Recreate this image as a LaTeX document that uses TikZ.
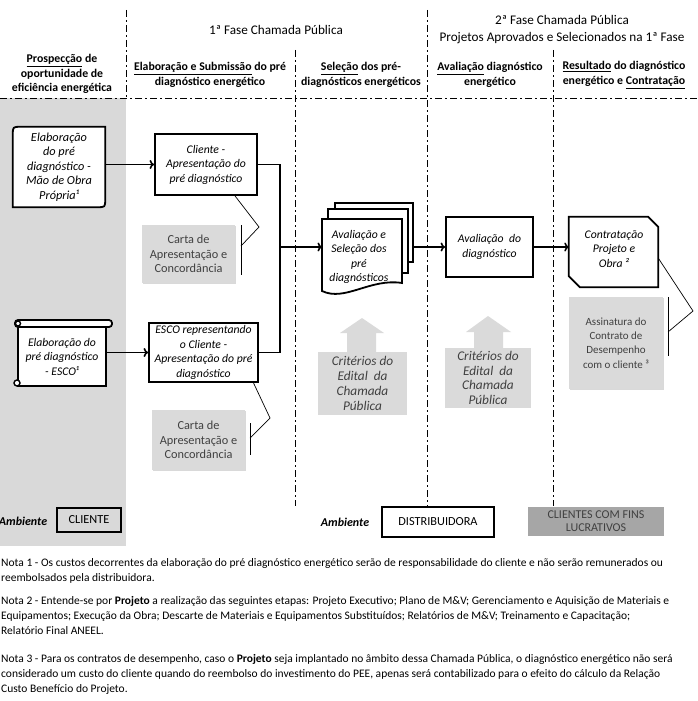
\documentclass[tikz,border=0pt]{standalone}
\usepackage{fontspec}
\setmainfont{Carlito}
\usetikzlibrary{shapes,arrows,arrows.meta,positioning,shadows}

\definecolor{laneGray}{RGB}{217,217,217}
\definecolor{boxGray}{RGB}{218,218,218}
\definecolor{envGray}{RGB}{166,166,166}
\definecolor{textGray}{RGB}{64,64,64}

\begin{document}
\begin{tikzpicture}[x=1pt, y=-1pt,
    divider/.style={line width=0.8pt, dash pattern=on 7pt off 3pt on 2pt off 3pt},
    stepbox/.style={draw, line width=1.8pt, fill=white, align=center, inner sep=1pt, font=\fontsize{11.7}{14.5}\selectfont\itshape},
    steptext/.style={align=center, inner sep=1pt, font=\fontsize{11.7}{14.5}\selectfont\itshape},
    docline/.style={line width=1.8pt, fill=white},
    cartabox/.style={fill=boxGray, align=center, inner sep=1pt, text=textGray, font=\fontsize{12.3}{14.5}\selectfont, drop shadow={shadow xshift=1.2pt, shadow yshift=-1.2pt, opacity=0.3}},
    critbox/.style={fill=boxGray, align=center, inner sep=1pt, text=textGray, font=\fontsize{13.3}{14.8}\selectfont\itshape},
    header/.style={align=center, font=\fontsize{11.8}{14.5}\selectfont\bfseries},
    phase/.style={align=center, font=\fontsize{13.2}{18}\selectfont},
    flow/.style={-{To[length=4.5pt,width=9pt]}, line width=1.6pt},
    link/.style={line width=1.6pt},
    callout/.style={line width=0.7pt},
    envbox/.style={draw, line width=1.6pt, font=\fontsize{12.3}{13}\selectfont},
    envlabel/.style={font=\fontsize{12}{13}\selectfont\bfseries\itshape},
    nota/.style={anchor=north west, align=left, inner sep=0pt, font=\fontsize{11.5}{15.2}\selectfont}
  ]
  \useasboundingbox (0,0) rectangle (698,701);

  % Client lane
  \fill[laneGray] (0,98) rectangle (126,546);

  % Phase dividers
  \draw[divider] (0,98) -- (698,98);
  \draw[divider] (126,10) -- (126,98);
  \draw[divider] (295,50) -- (295,506);
  \draw[divider] (427,10) -- (427,506);
  \draw[divider] (553,50) -- (553,506);

  % Phase titles
  \node[phase] (fase1) at (276,30) {1ª Fase Chamada Pública};
  \node[phase] (fase2) at (562,20) {2ª Fase Chamada Pública};
  \node[phase] (fase2b) at (562,38) {Projetos Aprovados e Selecionados na 1ª Fase};

  % Column headers
  \node[header] (hProsp) at (62,74) {\underline{Prospecção} de\\oportunidade de\\eficiência energética};
  \node[header] (hElab) at (210,75) {\underline{Elaboração e Submissão} do pré\\diagnóstico energético};
  \node[header] (hSel) at (361,75) {\underline{Seleção} dos pré-\\diagnósticos energéticos};
  \node[header] (hAval) at (490,75) {\underline{Avaliação} diagnóstico\\energético};
  \node[header] (hRes) at (624,75) {\underline{Resultado} do diagnóstico\\energético e \underline{Contratação}};

  % Own labour pre-diagnosis
  \node[steptext, minimum width=92pt, minimum height=80pt] (prop) at (59,167) {};
  \draw[docline] (prop.south west) -- ([yshift=-8pt]prop.north west) .. controls (prop.north west) .. ([xshift=8pt]prop.north west)
    -- (prop.north east) -- ([yshift=8pt]prop.south east) .. controls (prop.south east) .. ([xshift=-8pt]prop.south east) -- cycle;
  \node[steptext, font=\fontsize{12.3}{14.5}\selectfont\itshape] (propTxt) at (prop) {Elaboração\\do pré\\diagnóstico -\\Mão de Obra\\Própria¹};

  % ESCO pre-diagnosis (scroll)
  \node[minimum width=88pt, minimum height=59pt, inner sep=0pt] (scroll) at (62,356.5) {};
  \draw[docline] (scroll.north west) rectangle (scroll.south east);
  \draw[docline, rounded corners=3pt] (15,320) rectangle (112,327);
  \draw[line width=1.4pt, fill=white] (18,323.5) circle[radius=2.5];
  \draw[line width=1.4pt, fill=white] (17,383) circle[radius=3];
  \node[steptext] (escoTxt) at (scroll) {Elaboração do\\pré diagnóstico\\- ESCO¹};

  % Submission boxes
  \node[stepbox, minimum width=102pt, minimum height=61pt] (cli) at (206,164.5) {Cliente -\\Apresentação do\\pré diagnóstico};
  \node[stepbox, minimum width=109pt, minimum height=59pt] (esco) at (203.5,352.5) {ESCO representando\\o Cliente -\\Apresentação do pré\\diagnóstico};

  % Letters
  \node[cartabox, minimum width=93pt, minimum height=58pt] (carta1) at (188.5,254) {Carta de\\Apresentação e\\Concordância};
  \node[cartabox, minimum width=93pt, minimum height=60pt] (carta2) at (198.5,440) {Carta de\\Apresentação e\\Concordância};
  \draw[callout] (241,225) -- (241,275);
  \draw[callout] (241,246) -- (259,227) -- ([xshift=29pt]cli.south);
  \draw[callout] (250,423) -- (250,455);
  \draw[callout] (250,438) -- (270,418) -- ([xshift=50pt]esco.south);

  % Selection (stacked documents)
  \draw[docline] (335,203) rectangle (413,262);
  \draw[docline] (328,209) rectangle (408,273);
  \draw[docline] (322,219) -- (402,219) -- (402,283) .. controls (370,278) and (345,302) .. (322,291) -- cycle;
  \node[steptext] (sel) at (359,257) {Avaliação e\\Seleção dos\\pré\\diagnósticos};
  \coordinate (selIn) at (322,247);
  \coordinate (selOut) at (413,247);

  % Criteria (up arrows)
  \fill[boxGray] (362,318) -- (384,333) -- (376,333) -- (376,353) -- (347,353) -- (347,333) -- (340,333) -- cycle;
  \node[critbox, minimum width=89pt, minimum height=63pt] (crit1) at (362.5,383.5) {Critérios do\\Edital~ da\\Chamada\\Pública};
  \fill[boxGray] (488,316) -- (511,332) -- (503,332) -- (503,349) -- (474,349) -- (474,332) -- (466,332) -- cycle;
  \node[critbox, minimum width=86pt, minimum height=60pt] (crit2) at (488,378) {Critérios do\\Edital~ da\\Chamada\\Pública};

  % Evaluation
  \node[stepbox, minimum width=87pt, minimum height=60pt] (aval) at (489.5,247) {Avaliação~ do\\diagnóstico};

  % Contract (snipped box)
  \node[minimum width=89pt, minimum height=70pt, inner sep=0pt] (contr) at (613.5,252) {};
  \draw[docline] (contr.north west) -- ([xshift=-10pt]contr.north east) -- ([yshift=-10pt]contr.north east)
    -- (contr.south east) -- ([xshift=11pt]contr.south west) -- ([yshift=11pt]contr.south west) -- cycle;
  \node[steptext] (contrTxt) at (614,249) {Contratação\\Projeto e\\Obra ²};

  \node[cartabox, font=\fontsize{11}{14.2}\selectfont, minimum width=94pt, minimum height=92pt] (assin) at (616,343) {Assinatura do\\Contrato de\\Desempenho\\com o cliente ³};
  \draw[callout] (668,297) -- (668,356);
  \draw[callout] (668,332) -- (693,311) -- ([yshift=-6pt]contr.east);

  % Flow connectors
  \coordinate (junc) at (280,247);
  \draw[flow] (prop.east |- cli.west) -- (cli.west);
  \draw[flow] (scroll.east |- esco.west) -- (esco.west);
  \draw[link] (cli.east) -| (junc) |- (esco.east);
  \draw[flow] (junc) -- (selIn);
  \draw[flow] (selOut) -- (aval.west);
  \draw[flow] (aval.east) -- (aval.east -| contr.west);

  % Environments
  \node[envlabel] (amb1) at (23,521) {Ambiente};
  \node[envbox, minimum width=64pt, minimum height=24pt] (envCli) at (89,520) {CLIENTE};
  \node[envlabel] (amb2) at (345,522) {Ambiente};
  \node[envbox, minimum width=112pt, minimum height=30pt] (envDist) at (438,522) {DISTRIBUIDORA};
  \node[fill=envGray, text=textGray, align=center, minimum width=136pt, minimum height=29pt, inner sep=1pt, font=\fontsize{12}{13}\selectfont] (envLuc) at (596,521.5) {CLIENTES COM FINS\\LUCRATIVOS};

  % Notes
  \node[nota] (nota1) at (1,558) {Nota 1 - Os custos decorrentes da elaboração do pré diagnóstico energético serão de responsabilidade do cliente e não serão remunerados ou\\reembolsados pela distribuidora.};
  \node[nota] (nota2) at (1,596) {Nota 2 - Entende-se por \textbf{Projeto} a realização das seguintes etapas: Projeto Executivo; Plano de M\&V; Gerenciamento e Aquisição de Materiais e\\Equipamentos; Execução da Obra; Descarte de Materiais e Equipamentos Substituídos; Relatórios de M\&V; Treinamento e Capacitação;\\Relatório Final ANEEL.};
  \node[nota] (nota3) at (1,654) {Nota 3 - Para os contratos de desempenho, caso o \textbf{Projeto} seja implantado no âmbito dessa Chamada Pública, o diagnóstico energético não será\\considerado um custo do cliente quando do reembolso do investimento do PEE, apenas será contabilizado para o efeito do cálculo da Relação\\Custo Benefício do Projeto.};
\end{tikzpicture}
\end{document}
